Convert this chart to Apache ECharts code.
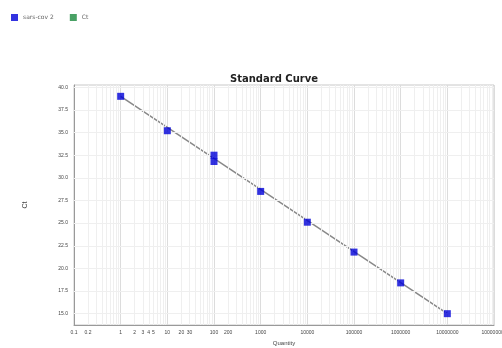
<!DOCTYPE html>
<html>
<head>
<meta charset="utf-8">
<script src="https://cdn.jsdelivr.net/npm/echarts@6/dist/echarts.min.js"></script>
<style>
  html, body { margin: 0; padding: 0; background: #fff; }
  #chart { width: 502px; height: 348px; }
</style>
</head>
<body>
<div id="chart"></div>
<script>
// values
const quantities = [1, 10, 100, 100, 1000, 10000, 100000, 1000000, 10000000];
const ctValues = [39.0, 35.2, 32.5, 31.8, 28.5, 25.1, 21.8, 18.4, 15.0];
const fitX = [1, 10000000];
const fitY = [39.0, 15.0];
const xLabelValues = [0.1, 0.2, 1, 2, 3, 4, 5, 10, 20, 30, 100, 200, 1000,
  10000, 100000, 1000000, 10000000, 100000000];
const xDecades = [0.1, 1, 10, 100, 1000, 10000, 100000, 1000000, 10000000, 100000000];
const yTicks = [15, 17.5, 20, 22.5, 25, 27.5, 30, 32.5, 35, 37.5, 40];

// minor grid positions 2..9 inside each decade
const minorX = [];
xDecades.slice(0, -1).forEach(d => {
  for (let k = 2; k <= 9; k++) minorX.push(+(d * k).toPrecision(6));
});

const fmtQty = v => String(+Number(v).toPrecision(6));

const myChart = echarts.init(document.getElementById("chart"));
const option = {
  animation: false,
  title: {
    text: "Standard Curve",
    left: 225,
    top: 69,
    textStyle: { fontSize: 10, fontWeight: "bold", color: "#222", fontFamily: "DejaVu Sans" }
  },
  legend: {
    left: 6,
    top: 9,
    icon: "rect",
    itemWidth: 7,
    itemHeight: 7,
    itemGap: 16,
    data: ["sars-cov 2", "Ct"],
    textStyle: { fontSize: 6, color: "#666", fontFamily: "DejaVu Sans" }
  },
  grid: {
    left: 74,
    right: 8,
    top: 85,
    bottom: 23,
    outerBoundsMode: "none",
    containLabel: false,
    show: true,
    borderColor: "#c8c8c8",
    borderWidth: 1
  },
  xAxis: {
    type: "log",
    logBase: 10,
    min: 0.1,
    max: 100000000,
    name: "Quantity",
    nameLocation: "middle",
    nameGap: 15,
    nameTextStyle: { fontSize: 6, color: "#444" },
    axisLine: { lineStyle: { color: "#999" } },
    axisTick: { show: false },
    splitLine: { show: true, lineStyle: { color: "#dcdcdc" } },
    axisLabel: {
      customValues: xLabelValues,
      fontSize: 5,
      color: "#444",
      margin: 5,
      hideOverlap: false,
      formatter: fmtQty
    }
  },
  yAxis: {
    type: "value",
    min: 13.75,
    max: 40.25,
    interval: 1.25,
    name: "Ct",
    nameLocation: "middle",
    nameGap: 45,
    nameTextStyle: { fontSize: 7, color: "#444" },
    axisLine: { show: true, lineStyle: { color: "#999" } },
    axisTick: { show: false },
    splitLine: { show: false },
    axisLabel: {
      fontSize: 5,
      color: "#444",
      margin: 6,
      formatter: v => (Math.abs(v / 2.5 - Math.round(v / 2.5)) < 1e-6 ? v.toFixed(1) : "")
    }
  },
  series: [
    {
      name: "grid",
      type: "line",
      data: [],
      silent: true,
      markLine: {
        silent: true,
        symbol: ["none", "none"],
        label: { show: false },
        lineStyle: { color: "#efefef", width: 1, type: "solid" },
        data: minorX.map(v => ({ xAxis: v })).concat(yTicks.map(v => ({ yAxis: v })))
      }
    },
    {
      name: "fit",
      type: "line",
      data: fitX.map((x, i) => [x, fitY[i]]),
      symbol: "none",
      lineStyle: { color: "#888888", width: 1.5, type: "solid" },
      z: 3
    },
    {
      name: "sars-cov 2",
      type: "scatter",
      data: quantities.map((q, i) => [q, ctValues[i]]),
      symbol: "rect",
      symbolSize: 7,
      itemStyle: { color: "#0000d8" },
      z: 5
    },
    {
      name: "Ct",
      type: "scatter",
      data: [],
      itemStyle: { color: "#1c8a3e" }
    }
  ]
};
option && myChart.setOption(option);
</script>
</body>
</html>
